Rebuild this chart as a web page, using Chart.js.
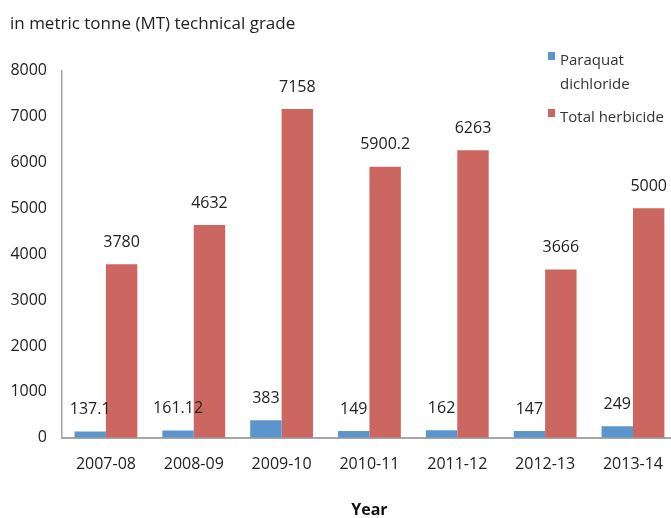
<!DOCTYPE html>
<html>
<head>
<meta charset="utf-8">
<script src="https://cdn.jsdelivr.net/npm/chart.js@4/dist/chart.umd.min.js"></script>
<style>
    html, body { margin: 0; padding: 0; background: #fff; overflow: hidden; }
    #wrap { width: 680px; height: 518px; }
</style>
</head>
<body>
<div id="wrap"><canvas id="herbChart"></canvas></div>
<script>
const years = ['2007-08', '2008-09', '2009-10', '2010-11', '2011-12', '2012-13', '2013-14'];
const paraquat = [137.1, 161.12, 383, 149, 162, 147, 249];
const totalHerbicide = [3780, 4632, 7158, 5900.2, 6263, 3666, 5000];
const yTicks = [0, 1000, 2000, 3000, 4000, 5000, 6000, 7000, 8000];

const FONT = '"Open Sans", "DejaVu Sans", sans-serif';

// value labels above each bar
const barLabels = {
    id: 'barLabels',
    afterDatasetsDraw(chart) {
        const ctx = chart.ctx;
        ctx.save();
        ctx.font = '16px ' + FONT;
        ctx.fillStyle = '#222';
        ctx.textAlign = 'center';
        ctx.textBaseline = 'middle';
        chart.data.datasets.forEach((ds, i) => {
            const meta = chart.getDatasetMeta(i);
            meta.data.forEach((bar, j) => {
                ctx.fillText(String(ds.data[j]), bar.x, bar.y - 22);
            });
        });
        ctx.restore();
    }
};

// legend in the top right corner, with wrapped text
const sideLegend = {
    id: 'sideLegend',
    afterDraw(chart) {
        const ctx = chart.ctx;
        const items = [
            { lines: ['Paraquat', 'dichloride'], color: chart.data.datasets[0].backgroundColor, y: 61 },
            { lines: ['Total herbicide'], color: chart.data.datasets[1].backgroundColor, y: 118 }
        ];
        ctx.save();
        ctx.font = '15px ' + FONT;
        ctx.textBaseline = 'middle';
        items.forEach(item => {
            ctx.fillStyle = item.color;
            ctx.fillRect(548, item.y - 9, 7, 8);
            ctx.fillStyle = '#333';
            item.lines.forEach((line, k) => {
                ctx.fillText(line, 560, item.y + k * 24);
            });
        });
        ctx.restore();
    }
};

new Chart(document.getElementById('herbChart'), {
    type: 'bar',
    data: {
        labels: years,
        datasets: [{
            label: 'Paraquat dichloride',
            data: paraquat,
            backgroundColor: '#5b95cb',
            categoryPercentage: 0.715,
            barPercentage: 1.0
        }, {
            label: 'Total herbicide',
            data: totalHerbicide,
            backgroundColor: '#cc6660',
            categoryPercentage: 0.715,
            barPercentage: 1.0
        }]
    },
    options: {
        responsive: true,
        maintainAspectRatio: false,
        animation: false,
        layout: { padding: { left: 10, right: 0, top: 0, bottom: 0 } },
        plugins: {
            legend: { display: false },
            tooltip: { enabled: false },
            title: {
                display: true,
                text: 'in metric tonne (MT) technical grade',
                align: 'start',
                color: '#222',
                font: { family: FONT, size: 17, weight: 'normal' },
                padding: { top: 14, bottom: 36 }
            }
        },
        scales: {
            x: {
                grid: { display: false, drawTicks: false },
                border: { color: '#a6a6a6', width: 2 },
                ticks: { color: '#222', padding: 17, font: { family: FONT, size: 16 } },
                title: {
                    display: true,
                    text: 'Year',
                    color: '#111',
                    font: { family: FONT, size: 16, weight: 'bold', lineHeight: 1 },
                    padding: { top: 11, bottom: 0 }
                }
            },
            y: {
                min: 0,
                max: 8000,
                afterBuildTicks(axis) {
                    axis.ticks = yTicks.map(v => ({ value: v }));
                },
                afterFit(axis) { axis.width = 52; },
                grid: { display: false, drawTicks: false },
                border: { color: '#a6a6a6', width: 1.5 },
                ticks: {
                    color: '#222',
                    padding: 15,
                    font: { family: FONT, size: 16 },
                    callback: v => String(v)
                }
            }
        }
    },
    plugins: [barLabels, sideLegend]
});
</script>
</body>
</html>
